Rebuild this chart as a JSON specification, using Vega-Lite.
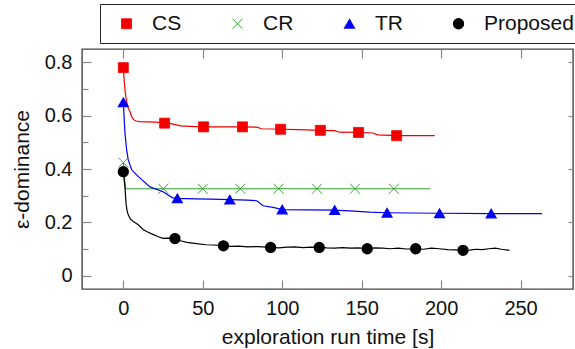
{
  "$schema": "https://vega.github.io/schema/vega-lite/v6.json",
  "width": 491,
  "height": 240,
  "autosize": {"type": "none"},
  "padding": {"left": 82, "top": 49, "right": 2, "bottom": 60},
  "background": "white",
  "config": {
    "font": "Liberation Sans",
    "view": {"stroke": "#444", "strokeWidth": 1.4},
    "axis": {
      "grid": false, "domain": false, "tickColor": "#888", "tickWidth": 1.2,
      "labelColor": "#111", "titleColor": "#111", "labelFontSize": 20, "titleFontSize": 21,
      "titleFontWeight": "normal", "labelFont": "Liberation Sans", "titleFont": "Liberation Sans",
      "labelFlush": false, "labelOverlap": false
    },
    "legend": {
      "orient": "none", "legendX": 18, "legendY": -45, "direction": "horizontal", "title": null,
      "padding": 9, "strokeColor": "#222", "fillColor": "white",
      "symbolSize": 110, "symbolOffset": 7, "labelOffset": 15, "columnPadding": 38,
      "labelFontSize": 21, "labelFont": "Liberation Sans", "labelColor": "#111"
    }
  },
  "datasets": {
    "lines": [
      {"series": "CS", "t": 0, "v": 0.78}, {"series": "CS", "t": 0.5, "v": 0.735}, {"series": "CS", "t": 1, "v": 0.7},
      {"series": "CS", "t": 1.5, "v": 0.675}, {"series": "CS", "t": 2, "v": 0.655}, {"series": "CS", "t": 3, "v": 0.63},
      {"series": "CS", "t": 4.2, "v": 0.615}, {"series": "CS", "t": 5, "v": 0.6}, {"series": "CS", "t": 6.3, "v": 0.586},
      {"series": "CS", "t": 8, "v": 0.58}, {"series": "CS", "t": 10.5, "v": 0.578}, {"series": "CS", "t": 15, "v": 0.577},
      {"series": "CS", "t": 21, "v": 0.576}, {"series": "CS", "t": 26, "v": 0.572}, {"series": "CS", "t": 30, "v": 0.57},
      {"series": "CS", "t": 36, "v": 0.562}, {"series": "CS", "t": 42, "v": 0.56}, {"series": "CS", "t": 50.5, "v": 0.558},
      {"series": "CS", "t": 60, "v": 0.558}, {"series": "CS", "t": 75, "v": 0.558}, {"series": "CS", "t": 84, "v": 0.557},
      {"series": "CS", "t": 87, "v": 0.551}, {"series": "CS", "t": 99, "v": 0.549}, {"series": "CS", "t": 110, "v": 0.548},
      {"series": "CS", "t": 124, "v": 0.545}, {"series": "CS", "t": 133, "v": 0.544}, {"series": "CS", "t": 136, "v": 0.538},
      {"series": "CS", "t": 148, "v": 0.537}, {"series": "CS", "t": 157, "v": 0.535}, {"series": "CS", "t": 160, "v": 0.528},
      {"series": "CS", "t": 172, "v": 0.525}, {"series": "CS", "t": 185, "v": 0.525}, {"series": "CS", "t": 196, "v": 0.525},

      {"series": "CR", "t": 0, "v": 0.424}, {"series": "CR", "t": 0.7, "v": 0.37}, {"series": "CR", "t": 1.5, "v": 0.326},
      {"series": "CR", "t": 100, "v": 0.326}, {"series": "CR", "t": 193, "v": 0.326},

      {"series": "TR", "t": 0, "v": 0.65}, {"series": "TR", "t": 1.05, "v": 0.534}, {"series": "TR", "t": 2.1, "v": 0.472},
      {"series": "TR", "t": 3.1, "v": 0.434}, {"series": "TR", "t": 5.3, "v": 0.397}, {"series": "TR", "t": 8.4, "v": 0.378},
      {"series": "TR", "t": 11.6, "v": 0.36}, {"series": "TR", "t": 16.8, "v": 0.333}, {"series": "TR", "t": 25, "v": 0.315},
      {"series": "TR", "t": 31, "v": 0.292}, {"series": "TR", "t": 34, "v": 0.29}, {"series": "TR", "t": 45, "v": 0.288},
      {"series": "TR", "t": 55, "v": 0.287}, {"series": "TR", "t": 67, "v": 0.285}, {"series": "TR", "t": 78, "v": 0.283},
      {"series": "TR", "t": 84, "v": 0.281}, {"series": "TR", "t": 88, "v": 0.262}, {"series": "TR", "t": 95, "v": 0.255},
      {"series": "TR", "t": 100, "v": 0.248}, {"series": "TR", "t": 115, "v": 0.247}, {"series": "TR", "t": 133, "v": 0.246},
      {"series": "TR", "t": 145, "v": 0.242}, {"series": "TR", "t": 155, "v": 0.238}, {"series": "TR", "t": 166, "v": 0.236},
      {"series": "TR", "t": 180, "v": 0.235}, {"series": "TR", "t": 199, "v": 0.234}, {"series": "TR", "t": 231.5, "v": 0.233},
      {"series": "TR", "t": 263.5, "v": 0.233},

      {"series": "Proposed", "t": 0, "v": 0.39}, {"series": "Proposed", "t": 0.5, "v": 0.36}, {"series": "Proposed", "t": 1, "v": 0.334},
      {"series": "Proposed", "t": 1.7, "v": 0.272}, {"series": "Proposed", "t": 2.3, "v": 0.245}, {"series": "Proposed", "t": 3.1, "v": 0.228},
      {"series": "Proposed", "t": 4.5, "v": 0.212}, {"series": "Proposed", "t": 6.3, "v": 0.203}, {"series": "Proposed", "t": 9.4, "v": 0.191},
      {"series": "Proposed", "t": 12.6, "v": 0.172}, {"series": "Proposed", "t": 15, "v": 0.165}, {"series": "Proposed", "t": 18.9, "v": 0.154},
      {"series": "Proposed", "t": 22, "v": 0.146}, {"series": "Proposed", "t": 25, "v": 0.14}, {"series": "Proposed", "t": 28, "v": 0.141},
      {"series": "Proposed", "t": 32.5, "v": 0.139}, {"series": "Proposed", "t": 36, "v": 0.131}, {"series": "Proposed", "t": 40, "v": 0.125},
      {"series": "Proposed", "t": 46, "v": 0.12}, {"series": "Proposed", "t": 52, "v": 0.116}, {"series": "Proposed", "t": 57, "v": 0.115},
      {"series": "Proposed", "t": 63, "v": 0.112}, {"series": "Proposed", "t": 68, "v": 0.11}, {"series": "Proposed", "t": 73, "v": 0.111},
      {"series": "Proposed", "t": 78, "v": 0.108}, {"series": "Proposed", "t": 85, "v": 0.109}, {"series": "Proposed", "t": 92.7, "v": 0.106},
      {"series": "Proposed", "t": 98, "v": 0.104}, {"series": "Proposed", "t": 103, "v": 0.107}, {"series": "Proposed", "t": 108, "v": 0.108},
      {"series": "Proposed", "t": 113, "v": 0.105}, {"series": "Proposed", "t": 118, "v": 0.107}, {"series": "Proposed", "t": 123.3, "v": 0.106},
      {"series": "Proposed", "t": 128, "v": 0.104}, {"series": "Proposed", "t": 133, "v": 0.103}, {"series": "Proposed", "t": 138, "v": 0.105},
      {"series": "Proposed", "t": 143, "v": 0.103}, {"series": "Proposed", "t": 148, "v": 0.104}, {"series": "Proposed", "t": 153.5, "v": 0.101},
      {"series": "Proposed", "t": 158, "v": 0.104}, {"series": "Proposed", "t": 163, "v": 0.103}, {"series": "Proposed", "t": 168, "v": 0.101},
      {"series": "Proposed", "t": 173, "v": 0.103}, {"series": "Proposed", "t": 178, "v": 0.1}, {"series": "Proposed", "t": 184, "v": 0.101},
      {"series": "Proposed", "t": 189, "v": 0.099}, {"series": "Proposed", "t": 194, "v": 0.103}, {"series": "Proposed", "t": 199, "v": 0.101},
      {"series": "Proposed", "t": 204, "v": 0.098}, {"series": "Proposed", "t": 209, "v": 0.097}, {"series": "Proposed", "t": 213.8, "v": 0.095},
      {"series": "Proposed", "t": 218, "v": 0.096}, {"series": "Proposed", "t": 222, "v": 0.099}, {"series": "Proposed", "t": 226, "v": 0.098},
      {"series": "Proposed", "t": 230, "v": 0.101}, {"series": "Proposed", "t": 234, "v": 0.103}, {"series": "Proposed", "t": 238, "v": 0.099},
      {"series": "Proposed", "t": 243, "v": 0.095}
    ],
    "markers": [
      {"series": "CS", "t": 0, "v": 0.78}, {"series": "CS", "t": 26, "v": 0.572}, {"series": "CS", "t": 50.5, "v": 0.558},
      {"series": "CS", "t": 75, "v": 0.558}, {"series": "CS", "t": 99, "v": 0.549}, {"series": "CS", "t": 124, "v": 0.545},
      {"series": "CS", "t": 148, "v": 0.537}, {"series": "CS", "t": 172, "v": 0.525},
      {"series": "CR", "t": 0, "v": 0.424}, {"series": "CR", "t": 25.2, "v": 0.326}, {"series": "CR", "t": 50, "v": 0.326},
      {"series": "CR", "t": 73.6, "v": 0.326}, {"series": "CR", "t": 97.7, "v": 0.326}, {"series": "CR", "t": 121.9, "v": 0.326},
      {"series": "CR", "t": 145.8, "v": 0.326}, {"series": "CR", "t": 170.3, "v": 0.326},
      {"series": "TR", "t": 0, "v": 0.65}, {"series": "TR", "t": 34, "v": 0.29}, {"series": "TR", "t": 67, "v": 0.285},
      {"series": "TR", "t": 100, "v": 0.248}, {"series": "TR", "t": 133, "v": 0.246}, {"series": "TR", "t": 166, "v": 0.236},
      {"series": "TR", "t": 199, "v": 0.234}, {"series": "TR", "t": 231.5, "v": 0.233},
      {"series": "Proposed", "t": 0, "v": 0.39}, {"series": "Proposed", "t": 32.5, "v": 0.139}, {"series": "Proposed", "t": 63, "v": 0.112},
      {"series": "Proposed", "t": 92.7, "v": 0.106}, {"series": "Proposed", "t": 123.3, "v": 0.106}, {"series": "Proposed", "t": 153.5, "v": 0.101},
      {"series": "Proposed", "t": 184, "v": 0.101}, {"series": "Proposed", "t": 213.8, "v": 0.095}
    ]
  },
  "resolve": {"axis": {"x": "independent", "y": "independent"}},
  "layer": [
    {
      "data": {"name": "lines"},
      "mark": {"type": "line", "strokeWidth": 1.2},
      "encoding": {
        "x": {
          "field": "t", "type": "quantitative",
          "scale": {"domain": [-26, 283], "nice": false, "zero": false},
          "axis": {"orient": "bottom", "values": [0, 50, 100, 150, 200, 250], "tickSize": -9, "labelPadding": 18,
                   "title": "exploration run time [s]", "titlePadding": 8}
        },
        "y": {
          "field": "v", "type": "quantitative",
          "scale": {"domain": [-0.05, 0.85], "nice": false, "zero": false},
          "axis": {"orient": "left", "values": [0, 0.1, 0.2, 0.3, 0.4, 0.5, 0.6, 0.7, 0.8],
                   "tickSize": {"condition": {"test": "round(datum.value*10) % 2 == 1", "value": -6}, "value": -9},
                   "format": "~g",
                   "labelExpr": "round(datum.value*10) % 2 == 1 ? '' : datum.label",
                   "labelPadding": 19, "title": "ε-dominance", "titlePadding": 12}
        },
        "color": {
          "field": "series", "type": "nominal",
          "scale": {"domain": ["CS", "CR", "TR", "Proposed"], "range": ["#f20000", "#33a033", "#0000f2", "#000000"]},
          "legend": {
            "orient": "none", "legendX": 18, "legendY": -45, "direction": "horizontal", "title": null,
            "symbolSize": 110, "symbolOffset": 7, "labelOffset": 15, "columnPadding": 38
          }
        },
        "order": {"field": "t", "type": "quantitative"}
      }
    },
    {
      "data": {"name": "markers"},
      "mark": {"type": "point", "filled": true, "opacity": 1},
      "encoding": {
        "x": {
          "field": "t", "type": "quantitative",
          "axis": {"orient": "top", "values": [0, 50, 100, 150, 200, 250], "tickSize": -9, "labels": false, "title": null}
        },
        "y": {
          "field": "v", "type": "quantitative",
          "axis": {"orient": "right", "values": [0, 0.2, 0.4, 0.6, 0.8], "tickSize": -5, "labels": false, "title": null}
        },
        "color": {
          "field": "series", "type": "nominal",
          "scale": {"domain": ["CS", "CR", "TR", "Proposed"], "range": ["#f20000", "#33a033", "#0000f2", "#000000"]},
          "legend": {
            "orient": "none", "legendX": 18, "legendY": -45, "direction": "horizontal", "title": null,
            "symbolSize": 110, "symbolOffset": 7, "labelOffset": 15, "columnPadding": 38
          }
        },
        "stroke": {
          "field": "series", "type": "nominal",
          "scale": {"domain": ["CS", "CR", "TR", "Proposed"], "range": ["#f20000", "#33a033", "#0000f2", "#000000"]},
          "legend": null
        },
        "shape": {
          "field": "series", "type": "nominal",
          "scale": {"domain": ["CS", "CR", "TR", "Proposed"], "range": ["square", "M-1,-1L1,1M-1,1L1,-1", "triangle-up", "circle"]},
          "legend": null
        },
        "size": {
          "field": "series", "type": "nominal",
          "scale": {"domain": ["CS", "CR", "TR", "Proposed"], "range": [100, 100, 125, 125]},
          "legend": null
        },
        "strokeWidth": {
          "field": "series", "type": "nominal",
          "scale": {"domain": ["CS", "CR", "TR", "Proposed"], "range": [0.8, 1.3, 0.8, 0.8]},
          "legend": null
        }
      }
    }
  ]
}
